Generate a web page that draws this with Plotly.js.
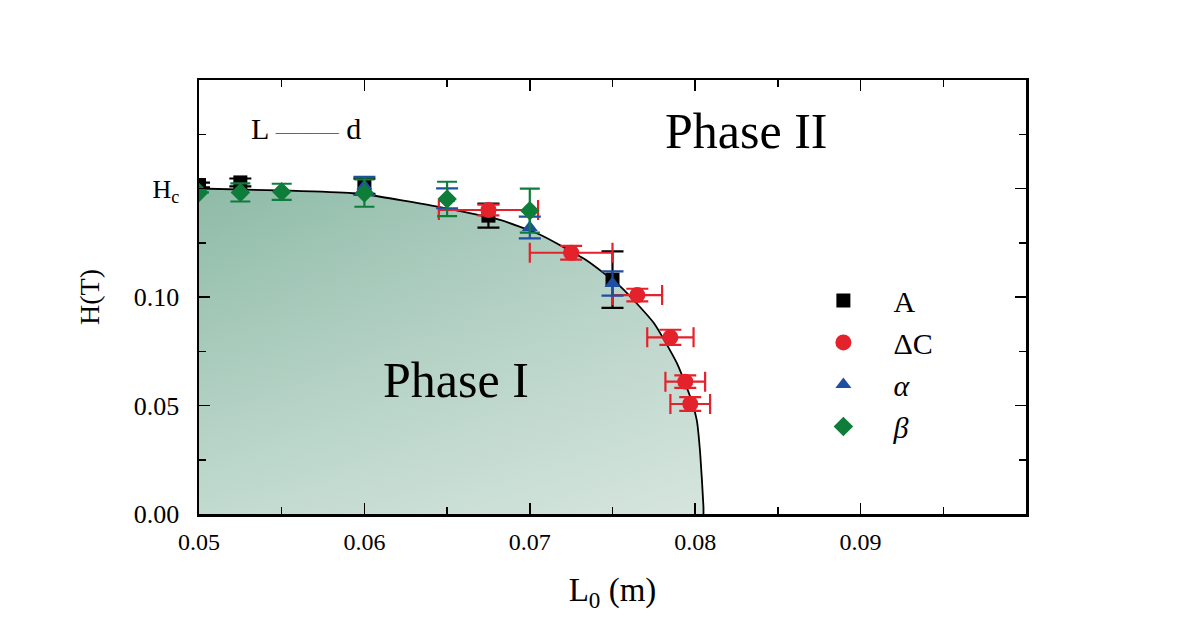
<!DOCTYPE html>
<html>
<head>
<meta charset="utf-8">
<script src="https://cdn.plot.ly/plotly-3.0.1.min.js"></script>
<style>
html,body{margin:0;padding:0;background:#fff;}
#chart{width:1187px;height:635px;}
</style>
</head>
<body>
<div id="chart"></div>
<script>
// ---- phase boundary curve ----
const curveL = [0.0500, 0.0555, 0.0593, 0.0603, 0.0644, 0.0682, 0.0706, 0.0734, 0.0755, 0.0775, 0.0789, 0.0797, 0.0801, 0.0803, 0.0805, 0.0805];
const curveH = [0.1500, 0.1490, 0.1478, 0.1470, 0.1416, 0.1355, 0.1288, 0.1170, 0.1047, 0.0880, 0.0694, 0.0540, 0.0430, 0.0281, 0.0032, 0.0000];

// ---- series A (black squares) ----
const aL   = [0.0500, 0.0525, 0.0600, 0.0675, 0.0750];
const aH   = [0.1516, 0.1528, 0.1510, 0.1375, 0.1080];
const aErr = [0.0011, 0.0018, 0.0035, 0.0055, 0.0130];

// ---- series ΔC (red circles) ----
const cL    = [0.0675, 0.0725, 0.0765, 0.0785, 0.0794, 0.0797];
const cH    = [0.1401, 0.1204, 0.1009, 0.0814, 0.0610, 0.0507];
const cErrL = [0.0030, 0.0025, 0.0015, 0.0014, 0.0012, 0.0012];
const cErrH = [0.0025, 0.0032, 0.0029, 0.0035, 0.0029, 0.0032];

// ---- series α (blue triangles) ----
const alL   = [0.0600, 0.0650, 0.0700, 0.0750];
const alH   = [0.1512, 0.1455, 0.1320, 0.1062];
const alErr = [0.0042, 0.0046, 0.0050, 0.0056];

// ---- series β (green diamonds) ----
const beL   = [0.0500, 0.0525, 0.0550, 0.0600, 0.0650, 0.0700];
const beH   = [0.1482, 0.1482, 0.1485, 0.1479, 0.1452, 0.1398];
const beErr = [0.0000, 0.0042, 0.0037, 0.0063, 0.0079, 0.0101];

// ---- tick labels ----
const xTickVals = [0.05, 0.06, 0.07, 0.08, 0.09];
const xTickText = ['0.05', '0.06', '0.07', '0.08', '0.09'];
const yTickVals = [0.00, 0.05, 0.10, 0.15];
const yTickText = ['0.00', '0.05', '0.10', 'H<sub>c</sub>'];

const FONT = 'Liberation Serif, DejaVu Serif, serif';
const RED = '#e4222b', BLUE = '#1f4fa0', GREEN = '#0f7d3a', BLACK = '#000000';
const PAD = '\u2002\u2002';

const traces = [
  { // gradient fill of phase I (horizontal part)
    x: curveL, y: curveH, mode: 'lines', line: {width: 0}, fill: 'tozeroy',
    fillgradient: {type: 'horizontal', start: 0.05, stop: 0.0805,
      colorscale: [[0, 'rgb(142,187,167)'], [1, 'rgb(178,207,195)']]},
    showlegend: false, hoverinfo: 'skip'
  },
  { // vertical lightening
    x: curveL, y: curveH, mode: 'lines', line: {width: 0}, fill: 'tozeroy',
    fillgradient: {type: 'vertical', start: 0, stop: 0.15,
      colorscale: [[0, 'rgba(255,255,255,0.46)'], [1, 'rgba(255,255,255,0)']]},
    showlegend: false, hoverinfo: 'skip'
  },
  { // boundary line
    x: curveL, y: curveH, mode: 'lines', line: {color: '#000', width: 1.8, shape: 'spline', smoothing: 0.5},
    showlegend: false, hoverinfo: 'skip'
  },
  {
    x: aL, y: aH, name: PAD + 'A', mode: 'markers',
    marker: {symbol: 'square', size: 14, color: BLACK},
    error_y: {type: 'data', array: aErr, visible: true, color: BLACK, thickness: 2.2, width: 11}
  },
  {
    x: cL, y: cH, name: PAD + '\u0394C', mode: 'markers',
    marker: {symbol: 'circle', size: 16, color: RED},
    error_x: {type: 'data', array: cErrL, visible: true, color: RED, thickness: 2.2, width: 10},
    error_y: {type: 'data', array: cErrH, visible: true, color: RED, thickness: 2.2, width: 11}
  },
  {
    x: alL, y: alH, name: PAD + '<i>\u03b1</i>', mode: 'markers',
    marker: {symbol: 'triangle-up', size: 14, color: BLUE},
    error_y: {type: 'data', array: alErr, visible: true, color: BLUE, thickness: 2.2, width: 11}
  },
  {
    x: beL, y: beH, name: PAD + '<i>\u03b2</i>', mode: 'markers',
    marker: {symbol: 'diamond', size: 15, color: GREEN},
    error_y: {type: 'data', array: beErr, visible: true, color: GREEN, thickness: 2.2, width: 10}
  }
];

const axisCommon = {
  showline: true, linecolor: '#000', linewidth: 2.5, mirror: 'allticks',
  ticks: 'inside', ticklen: 11, tickwidth: 1.5, tickcolor: '#000',
  showgrid: false, zeroline: false, automargin: false
};

const layout = {
  width: 1187, height: 635,
  margin: {l: 199, r: 161, t: 80, b: 121},
  paper_bgcolor: '#fff', plot_bgcolor: '#fff',
  font: {family: FONT, color: '#000'},
  xaxis: Object.assign({}, axisCommon, {
    range: [0.05, 0.1], tickmode: 'array', tickvals: xTickVals, ticktext: xTickText,
    ticklabelstandoff: 5,
    tickfont: {family: FONT, size: 24, color: '#000'},
    minor: {dtick: 0.005, tick0: 0.05, ticks: 'inside', ticklen: 7, tickwidth: 1.5, tickcolor: '#000'},
    title: {text: 'L<sub>0</sub> (m)', font: {family: FONT, size: 33, color: '#000'}, standoff: 24}
  }),
  yaxis: Object.assign({}, axisCommon, {
    range: [0, 0.2], tickmode: 'array', tickvals: yTickVals, ticktext: yTickText,
    ticklabelstandoff: 12,
    tickfont: {family: FONT, size: 26, color: '#000'},
    minor: {dtick: 0.025, tick0: 0, ticks: 'inside', ticklen: 7, tickwidth: 1.5, tickcolor: '#000'},
    title: {text: 'H(T)', font: {family: FONT, size: 28, color: '#000'}, standoff: 26}
  }),
  showlegend: true,
  legend: {
    x: 0.755, y: 0.552, xanchor: 'left', yanchor: 'top',
    bgcolor: 'rgba(0,0,0,0)', borderwidth: 0,
    font: {family: FONT, size: 30, color: '#000'},
    itemwidth: 30, tracegroupgap: 0
  },
  annotations: [
    {xref: 'paper', yref: 'paper', x: 0.661, y: 0.882, xanchor: 'center', yanchor: 'middle',
     text: 'Phase II', showarrow: false, font: {family: FONT, size: 50, color: '#000'}},
    {xref: 'paper', yref: 'paper', x: 0.311, y: 0.308, xanchor: 'center', yanchor: 'middle',
     text: 'Phase I', showarrow: false, font: {family: FONT, size: 50, color: '#000'}},
    {xref: 'paper', yref: 'paper', x: 0.129, y: 0.889, xanchor: 'center', yanchor: 'middle',
     text: 'L <span style="font-size:21px;color:#666">\u2014\u2014\u2014</span> d', showarrow: false,
     font: {family: FONT, size: 30, color: '#000'}}
  ]
};

Plotly.newPlot('chart', traces, layout, {staticPlot: true, displayModeBar: false});
</script>
</body>
</html>
